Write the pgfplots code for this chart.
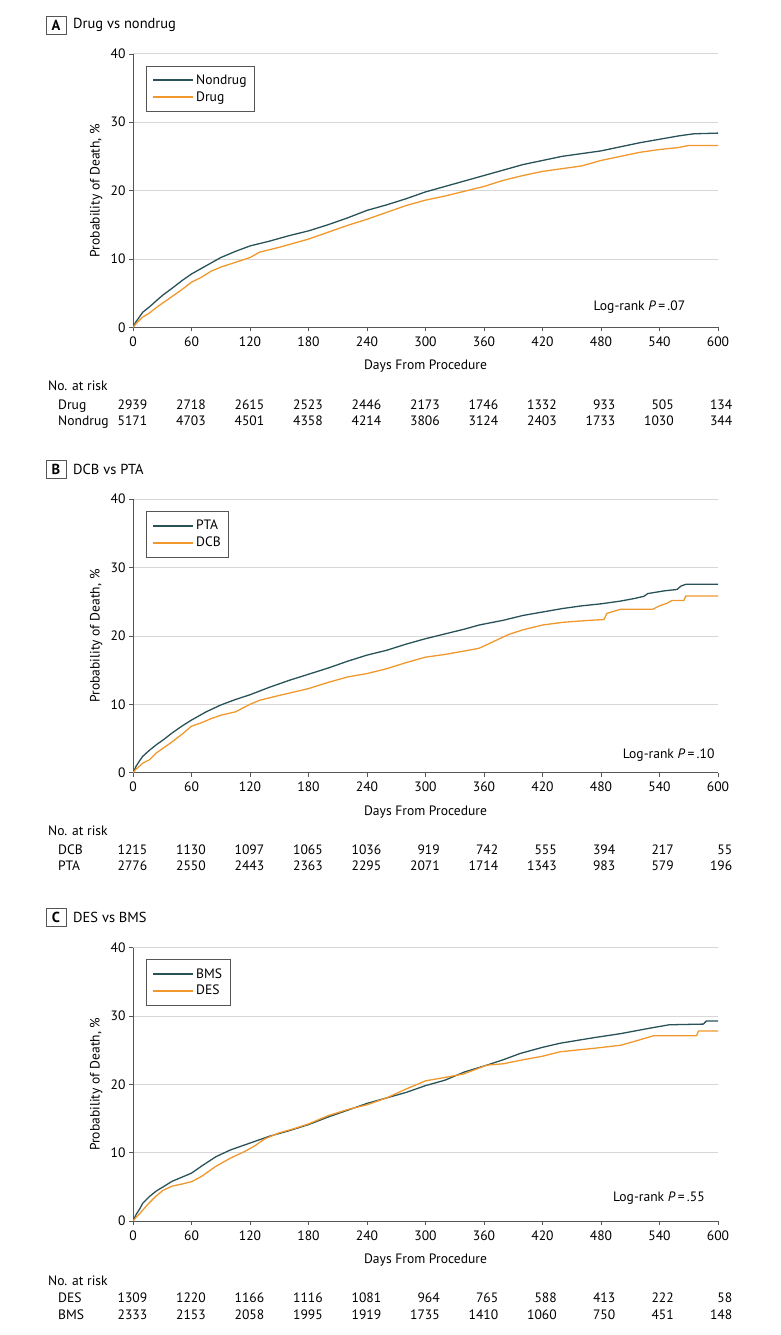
\documentclass[border=0pt]{standalone}
\usepackage{fontspec}
\setmainfont{PT Sans}
\usepackage{pgfplots}
\pgfplotsset{compat=1.18}
\definecolor{kmteal}{RGB}{40,82,88}
\definecolor{kmorange}{RGB}{240,152,44}
\definecolor{axisgray}{RGB}{85,85,85}
\definecolor{gridgray}{RGB}{215,215,215}
\newcommand{\fs}{\fontsize{13.6}{15}\selectfont}
\newcommand{\ts}{\fontsize{14.5}{16}\selectfont}
\pgfplotsset{km/.style={
  scale only axis, width=585pt, height=273.5pt, anchor=south west,
  xmin=0, xmax=600, ymin=0, ymax=40,
  xtick={0,60,...,600}, ytick={0,10,...,40},
  axis x line*=bottom, axis y line*=left,
  tick align=outside, major tick length=4pt,
  tick style={color=axisgray, line width=0.6pt},
  axis line style={axisgray, line width=0.8pt},
  ymajorgrids, grid style={gridgray, line width=0.7pt},
  xlabel={Days From Procedure}, ylabel={Probability of Death, \%},
  ylabel style={at={(axis description cs:-0.063,0.5)}, anchor=center, font=\fs},
  xlabel style={at={(axis description cs:0.5,-0.143)}, anchor=center, font=\fs},
  tick label style={font=\fs},
  xticklabel style={yshift=-2pt},
  /pgf/number format/assume math mode=true,
  legend style={at={(axis description cs:0.022,0.957)}, anchor=north west,
    draw=axisgray, line width=0.6pt, font=\fs, row sep=1.5pt, inner xsep=6pt, inner ysep=7pt},
  legend cell align=left,
  legend image code/.code={\draw[#1, line width=2pt] (0pt,0pt) -- (40pt,0pt);},
  every axis plot/.append style={line width=1.3pt},
}}
\begin{document}
\begin{tikzpicture}
\useasboundingbox (0,0) rectangle (780pt,-1335pt);
% ---------------- Panel A
\node[draw=axisgray, line width=0.7pt, minimum width=20pt, minimum height=18pt, inner sep=0pt, font=\ts\bfseries] at (56pt,-25pt) {A};
\node[anchor=west, font=\ts, inner sep=0pt] at (73pt,-25pt) {Drug vs nondrug};
\begin{axis}[km, at={(133pt,-327.3pt)}]
\addplot[kmteal] coordinates {(0,0)(3,0.8)(7,1.6)(10,2.2)(17,3.0)(24,3.9)(31,4.75)(40,5.7)(50,6.8)(60,7.8)(75,9.0)(90,10.2)(105,11.1)(120,11.9)(140,12.6)(160,13.4)(180,14.1)(200,15.0)(220,16.0)(240,17.1)(260,17.9)(280,18.8)(300,19.8)(320,20.6)(340,21.4)(360,22.2)(380,23.0)(400,23.8)(420,24.4)(440,25.0)(460,25.4)(480,25.8)(500,26.4)(520,27.0)(540,27.5)(560,28.0)(575,28.3)(600,28.4)};
\addlegendentry{Nondrug}
\addplot[kmorange] coordinates {(0,0)(3,0.5)(7,1.1)(10,1.5)(17,2.1)(24,2.9)(31,3.6)(40,4.5)(50,5.5)(60,6.6)(70,7.3)(80,8.2)(90,8.8)(105,9.5)(120,10.2)(130,11.0)(150,11.7)(165,12.3)(180,12.9)(200,13.9)(220,14.9)(240,15.8)(260,16.8)(280,17.8)(300,18.6)(320,19.2)(340,19.9)(360,20.6)(380,21.5)(400,22.2)(420,22.8)(440,23.2)(460,23.6)(480,24.4)(500,25.0)(520,25.6)(540,26.0)(560,26.3)(570,26.6)(600,26.6)};
\addlegendentry{Drug}
\node[anchor=east, font=\fs] at (axis cs:570,3.0) {Log-rank \textit{P}\,=\,.07};
\end{axis}
\node[anchor=base west, font=\fs, inner sep=0pt] at (48pt,-390.3pt) {No. at risk};
\node[anchor=base west, font=\fs, inner sep=0pt] at (58pt,-409.3pt) {Drug};
\node[anchor=base west, font=\fs, inner sep=0pt] at (58pt,-425.3pt) {Nondrug};
\foreach \v [count=\i from 0] in {2939,2718,2615,2523,2446,2173,1746,1332,933,505,134}
  \node[anchor=base east, font=\fs, inner sep=0pt] at ({(147.5+58.5*\i)*1pt},-409.3pt) {\v};
\foreach \v [count=\i from 0] in {5171,4703,4501,4358,4214,3806,3124,2403,1733,1030,344}
  \node[anchor=base east, font=\fs, inner sep=0pt] at ({(147.5+58.5*\i)*1pt},-425.3pt) {\v};
% ---------------- Panel B
\node[draw=axisgray, line width=0.7pt, minimum width=20pt, minimum height=18pt, inner sep=0pt, font=\ts\bfseries] at (56pt,-469.5pt) {B};
\node[anchor=west, font=\ts, inner sep=0pt] at (73pt,-469.5pt) {DCB vs PTA};
\begin{axis}[km, at={(133pt,-772.7pt)}]
\addplot[kmteal] coordinates {(0,0)(3,0.9)(7,1.8)(10,2.4)(17,3.3)(24,4.1)(31,4.8)(40,5.8)(50,6.8)(60,7.7)(75,8.9)(90,9.9)(105,10.7)(120,11.4)(140,12.5)(160,13.5)(180,14.4)(200,15.3)(220,16.3)(240,17.2)(260,17.9)(280,18.8)(300,19.6)(320,20.3)(340,21.0)(355,21.6)(380,22.3)(400,23.0)(420,23.5)(440,24.0)(460,24.4)(480,24.7)(500,25.1)(515,25.5)(524,25.8)(528,26.2)(545,26.6)(558,26.8)(562,27.3)(567,27.55)(600,27.55)};
\addlegendentry{PTA}
\addplot[kmorange] coordinates {(0,0)(3,0.5)(7,1.0)(10,1.4)(17,1.9)(24,2.9)(31,3.6)(40,4.5)(50,5.6)(60,6.8)(70,7.3)(80,7.9)(90,8.4)(105,8.9)(120,10.0)(130,10.6)(150,11.3)(165,11.8)(180,12.3)(200,13.2)(220,14.0)(240,14.5)(260,15.2)(280,16.1)(300,16.9)(320,17.3)(340,17.8)(355,18.2)(370,19.2)(385,20.2)(400,20.9)(420,21.6)(441,22.0)(470,22.3)(483,22.4)(486,23.3)(500,23.9)(533,23.9)(540,24.4)(548,24.8)(553,25.2)(565,25.2)(567,25.85)(600,25.85)};
\addlegendentry{DCB}
\node[anchor=east, font=\fs] at (axis cs:600,2.6) {Log-rank \textit{P}\,=\,.10};
\end{axis}
\node[anchor=base west, font=\fs, inner sep=0pt] at (48pt,-835.7pt) {No. at risk};
\node[anchor=base west, font=\fs, inner sep=0pt] at (58pt,-854.7pt) {DCB};
\node[anchor=base west, font=\fs, inner sep=0pt] at (58pt,-870.7pt) {PTA};
\foreach \v [count=\i from 0] in {1215,1130,1097,1065,1036,919,742,555,394,217,55}
  \node[anchor=base east, font=\fs, inner sep=0pt] at ({(147.5+58.5*\i)*1pt},-854.7pt) {\v};
\foreach \v [count=\i from 0] in {2776,2550,2443,2363,2295,2071,1714,1343,983,579,196}
  \node[anchor=base east, font=\fs, inner sep=0pt] at ({(147.5+58.5*\i)*1pt},-870.7pt) {\v};
% ---------------- Panel C
\node[draw=axisgray, line width=0.7pt, minimum width=20pt, minimum height=18pt, inner sep=0pt, font=\ts\bfseries] at (56pt,-917.5pt) {C};
\node[anchor=west, font=\ts, inner sep=0pt] at (73pt,-917.5pt) {DES vs BMS};
\begin{axis}[km, at={(133pt,-1221pt)}]
\addplot[kmteal] coordinates {(0,0)(3,0.9)(7,1.8)(10,2.6)(17,3.6)(24,4.4)(31,5.0)(40,5.8)(50,6.4)(60,7.0)(70,8.0)(85,9.4)(100,10.4)(120,11.4)(140,12.4)(160,13.2)(180,14.1)(200,15.2)(220,16.2)(240,17.2)(260,18.0)(280,18.8)(300,19.8)(320,20.6)(340,21.8)(363,22.8)(380,23.6)(397,24.5)(420,25.4)(438,26.0)(472,26.8)(500,27.4)(530,28.2)(550,28.7)(585,28.8)(588,29.25)(600,29.25)};
\addlegendentry{BMS}
\addplot[kmorange] coordinates {(0,0)(3,0.5)(7,1.1)(10,1.6)(17,2.7)(24,3.7)(31,4.5)(40,5.1)(50,5.4)(60,5.75)(70,6.5)(85,8.0)(100,9.2)(115,10.2)(125,11.0)(135,12.0)(150,12.9)(165,13.5)(180,14.2)(200,15.4)(220,16.3)(240,17.0)(260,18.0)(280,19.3)(300,20.5)(320,21.0)(339,21.5)(363,22.8)(380,23.0)(397,23.5)(420,24.1)(438,24.75)(472,25.25)(500,25.7)(515,26.3)(534,27.1)(578,27.1)(580,27.8)(600,27.8)};
\addlegendentry{DES}
\node[anchor=east, font=\fs] at (axis cs:590,3.4) {Log-rank \textit{P}\,=\,.55};
\end{axis}
\node[anchor=base west, font=\fs, inner sep=0pt] at (48pt,-1285.5pt) {No. at risk};
\node[anchor=base west, font=\fs, inner sep=0pt] at (58pt,-1302.5pt) {DES};
\node[anchor=base west, font=\fs, inner sep=0pt] at (58pt,-1319pt) {BMS};
\foreach \v [count=\i from 0] in {1309,1220,1166,1116,1081,964,765,588,413,222,58}
  \node[anchor=base east, font=\fs, inner sep=0pt] at ({(147.5+58.5*\i)*1pt},-1302.5pt) {\v};
\foreach \v [count=\i from 0] in {2333,2153,2058,1995,1919,1735,1410,1060,750,451,148}
  \node[anchor=base east, font=\fs, inner sep=0pt] at ({(147.5+58.5*\i)*1pt},-1319pt) {\v};
\end{tikzpicture}
\end{document}
